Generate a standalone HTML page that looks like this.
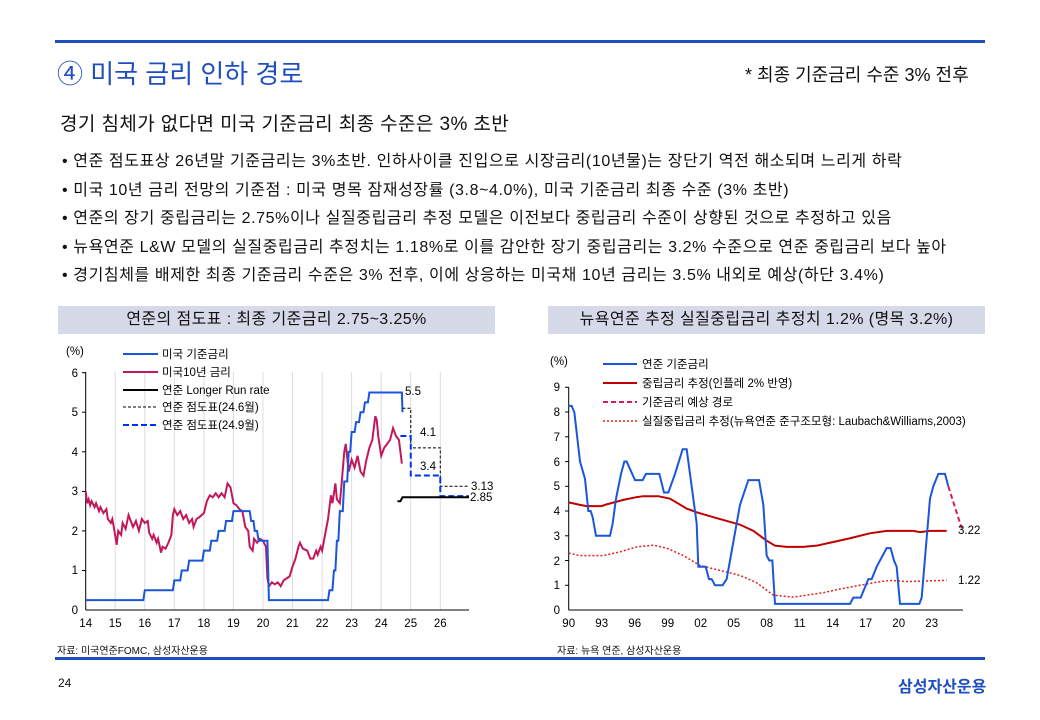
<!DOCTYPE html>
<html><head><meta charset="utf-8"><style>
body{margin:0;width:1040px;height:720px;background:#fff;font-family:"Liberation Sans","Noto Sans CJK KR",sans-serif;position:relative;overflow:hidden;color:#111}
.a{position:absolute;white-space:nowrap}
.bx{position:absolute;background:#d6d9e8;height:28px;line-height:28px;text-align:center;font-size:16px;letter-spacing:0.4px}
</style></head><body>
<div class="a" style="left:55px;top:40px;width:930px;height:3px;background:#1f4fbf"></div>
<div class="a" style="left:57px;top:54px;font-size:26px;color:#1f4fbf">④ 미국 금리 인하 경로</div>
<div class="a" style="left:745px;top:61px;font-size:18px">* 최종 기준금리 수준 3% 전후</div>
<div class="a" style="left:60px;top:109px;font-size:19px;letter-spacing:0.4px">경기 침체가 없다면 미국 기준금리 최종 수준은 3% 초반</div>
<div class="a" style="left:62px;top:148px;font-size:16px;letter-spacing:0.6px;line-height:28.5px">
• 연준 점도표상 26년말 기준금리는 3%초반. 인하사이클 진입으로 시장금리(10년물)는 장단기 역전 해소되며 느리게 하락<br>
• 미국 10년 금리 전망의 기준점 : 미국 명목 잠재성장률 (3.8~4.0%), 미국 기준금리 최종 수준 (3% 초반)<br>
• 연준의 장기 중립금리는 2.75%이나 실질중립금리 추정 모델은 이전보다 중립금리 수준이 상향된 것으로 추정하고 있음<br>
• 뉴욕연준 L&amp;W 모델의 실질중립금리 추정치는 1.18%로 이를 감안한 장기 중립금리는 3.2% 수준으로 연준 중립금리 보다 높아<br>
• 경기침체를 배제한 최종 기준금리 수준은 3% 전후, 이에 상응하는 미국채 10년 금리는 3.5% 내외로 예상(하단 3.4%)</div>
<div class="bx" style="left:58px;top:306px;width:437px">연준의 점도표 : 최종 기준금리 2.75~3.25%</div>
<div class="bx" style="left:548px;top:306px;width:437px">뉴욕연준 추정 실질중립금리 추정치 1.2% (명목 3.2%)</div>
<div class="a" style="left:57px;top:642px;font-size:10px">자료: 미국연준FOMC, 삼성자산운용</div>
<div class="a" style="left:557px;top:642px;font-size:10px">자료: 뉴욕 연준, 삼성자산운용</div>
<div class="a" style="left:55px;top:657px;width:930px;height:3px;background:#1f4fbf"></div>
<div class="a" style="left:58px;top:676px;font-size:12px">24</div>
<div class="a" style="left:898px;top:673px;font-size:16px;font-weight:bold;color:#1f4fbf">삼성자산운용</div>

<svg class="a" style="left:0;top:0" width="1040" height="720" font-family="Liberation Sans,Noto Sans CJK KR,sans-serif" font-size="11.5">
<!-- LEFT CHART -->
<g stroke="#dcdcdc" stroke-width="1">
<line x1="115.2" y1="372" x2="115.2" y2="610"/><line x1="144.8" y1="372" x2="144.8" y2="610"/><line x1="174.3" y1="372" x2="174.3" y2="610"/><line x1="203.9" y1="372" x2="203.9" y2="610"/><line x1="233.4" y1="372" x2="233.4" y2="610"/><line x1="263" y1="372" x2="263" y2="610"/><line x1="292.5" y1="372" x2="292.5" y2="610"/><line x1="322.1" y1="372" x2="322.1" y2="610"/><line x1="351.6" y1="372" x2="351.6" y2="610"/><line x1="381.2" y1="372" x2="381.2" y2="610"/><line x1="410.7" y1="372" x2="410.7" y2="610"/><line x1="440.3" y1="372" x2="440.3" y2="610"/>
</g>
<g stroke="#000" stroke-width="1"><line x1="85.7" y1="372" x2="85.7" y2="610"/><line x1="85.7" y1="610" x2="469" y2="610"/>
<line x1="82" y1="372.7" x2="85.7" y2="372.7"/><line x1="82" y1="412.2" x2="85.7" y2="412.2"/><line x1="82" y1="451.8" x2="85.7" y2="451.8"/><line x1="82" y1="491.4" x2="85.7" y2="491.4"/><line x1="82" y1="530.9" x2="85.7" y2="530.9"/><line x1="82" y1="570.5" x2="85.7" y2="570.5"/></g>
<g text-anchor="end"><text x="78" y="377">6</text><text x="78" y="416">5</text><text x="78" y="456">4</text><text x="78" y="495">3</text><text x="78" y="535">2</text><text x="78" y="574">1</text><text x="78" y="614">0</text></g>
<text x="66" y="355">(%)</text>
<g text-anchor="middle"><text x="85.7" y="627">14</text><text x="115.2" y="627">15</text><text x="144.8" y="627">16</text><text x="174.3" y="627">17</text><text x="203.9" y="627">18</text><text x="233.4" y="627">19</text><text x="263" y="627">20</text><text x="292.5" y="627">21</text><text x="322.1" y="627">22</text><text x="351.6" y="627">23</text><text x="381.2" y="627">24</text><text x="410.7" y="627">25</text><text x="440.3" y="627">26</text></g>
<g transform="translate(85.7,610) scale(29.55,-39.55)" fill="none">
<polyline vector-effect="non-scaling-stroke" stroke="#c2185b" stroke-width="2" points="0,3.0 0.05,2.7 0.1,2.8 0.15,2.65 0.2,2.75 0.3,2.6 0.35,2.7 0.45,2.5 0.5,2.6 0.6,2.45 0.7,2.55 0.75,2.3 0.85,2.2 0.9,2.3 0.95,2.1 1.05,1.65 1.1,2.0 1.2,1.9 1.25,2.2 1.35,2.05 1.45,2.4 1.5,2.3 1.6,2.1 1.7,2.25 1.8,2.0 1.9,2.3 2.0,2.2 2.1,2.25 2.15,1.95 2.25,1.8 2.3,1.9 2.4,1.7 2.45,1.8 2.55,1.45 2.6,1.6 2.7,1.55 2.8,1.7 2.9,1.9 2.95,2.4 3.0,2.55 3.1,2.4 3.2,2.5 3.3,2.3 3.4,2.4 3.5,2.2 3.6,2.3 3.65,2.1 3.75,2.3 3.85,2.35 4.0,2.45 4.1,2.75 4.2,2.9 4.3,2.85 4.4,2.95 4.5,2.85 4.6,2.95 4.7,2.85 4.8,3.2 4.9,3.1 5.0,2.7 5.1,2.65 5.2,2.55 5.3,2.5 5.4,2.1 5.5,2.0 5.55,1.6 5.65,1.5 5.7,1.8 5.8,1.7 5.9,1.8 6.0,1.75 6.1,1.6 6.15,0.8 6.2,0.6 6.3,0.7 6.4,0.65 6.5,0.7 6.6,0.6 6.7,0.75 6.8,0.8 6.9,0.85 7.0,1.1 7.1,1.3 7.2,1.6 7.25,1.7 7.35,1.55 7.5,1.5 7.6,1.3 7.7,1.3 7.8,1.5 7.85,1.4 7.95,1.6 8.0,1.5 8.1,1.9 8.2,2.3 8.3,2.9 8.35,2.7 8.45,3.2 8.5,2.8 8.6,2.7 8.65,3.1 8.75,4.0 8.8,4.2 8.9,3.5 9.0,3.8 9.1,3.6 9.2,3.9 9.3,3.5 9.4,3.4 9.5,3.8 9.6,4.1 9.7,4.3 9.8,4.9 9.85,4.8 9.9,4.4 10.0,3.9 10.1,4.1 10.2,4.2 10.3,4.3 10.4,4.6 10.5,4.4 10.6,4.3 10.7,3.7"/>
<polyline vector-effect="non-scaling-stroke" stroke="#1a56db" stroke-width="2" points="0,0.25 1.95,0.25 2.0,0.5 2.95,0.5 3.0,0.75 3.2,0.75 3.25,1.0 3.45,1.0 3.5,1.25 3.95,1.25 4.0,1.5 4.2,1.5 4.25,1.75 4.45,1.75 4.5,2.0 4.7,2.0 4.75,2.25 4.95,2.25 5.0,2.5 5.55,2.5 5.6,2.25 5.68,2.25 5.72,2.0 5.8,2.0 5.85,1.75 6.15,1.75 6.2,0.25 8.2,0.25 8.25,0.5 8.35,0.5 8.4,1.0 8.45,1.0 8.5,1.75 8.55,1.75 8.6,2.5 8.7,2.5 8.75,3.25 8.85,3.25 8.9,4.0 8.95,4.0 9.0,4.5 9.1,4.5 9.15,4.75 9.25,4.75 9.3,5.0 9.4,5.0 9.45,5.25 9.55,5.25 9.6,5.5 10.7,5.5 10.72,5.0"/>
<polyline vector-effect="non-scaling-stroke" stroke="#000" stroke-width="1" stroke-dasharray="3,2" points="10.72,5.1 11.0,5.1 11.0,4.1 12.0,4.1 12.0,3.13 12.97,3.13"/>
<polyline vector-effect="non-scaling-stroke" stroke="#0033ee" stroke-width="2" stroke-dasharray="6,3" points="10.65,4.4 11.0,4.4 11.0,3.4 12.0,3.4 12.0,2.88 12.97,2.88"/>
<polyline vector-effect="non-scaling-stroke" stroke="#000" stroke-width="2" points="10.55,2.75 10.65,2.75 10.72,2.85 12.97,2.85"/>
</g>
<g><text x="405" y="395">5.5</text><text x="420" y="436">4.1</text><text x="420" y="470">3.4</text><text x="471" y="490">3.13</text><text x="470" y="501">2.85</text></g>
<g stroke-width="2"><line x1="123" y1="354" x2="158" y2="354" stroke="#1a56db"/><line x1="123" y1="372" x2="158" y2="372" stroke="#c2185b"/><line x1="123" y1="390" x2="158" y2="390" stroke="#000"/><line x1="123" y1="407" x2="158" y2="407" stroke="#000" stroke-width="1" stroke-dasharray="3,2"/><line x1="123" y1="425" x2="158" y2="425" stroke="#0033ee" stroke-dasharray="6,3"/></g>
<g><text x="162" y="358">미국 기준금리</text><text x="162" y="376">미국10년 금리</text><text x="162" y="394">연준 Longer Run rate</text><text x="162" y="411">연준 점도표(24.6월)</text><text x="162" y="429">연준 점도표(24.9월)</text></g>

<!-- RIGHT CHART -->
<g stroke="#000" stroke-width="1"><line x1="568.7" y1="387" x2="568.7" y2="610"/><line x1="568.7" y1="610" x2="963" y2="610"/></g>
<g stroke="#000"><line x1="565" y1="387.3" x2="568.7" y2="387.3"/><line x1="565" y1="412" x2="568.7" y2="412"/><line x1="565" y1="436.8" x2="568.7" y2="436.8"/><line x1="565" y1="461.6" x2="568.7" y2="461.6"/><line x1="565" y1="486.3" x2="568.7" y2="486.3"/><line x1="565" y1="511" x2="568.7" y2="511"/><line x1="565" y1="535.8" x2="568.7" y2="535.8"/><line x1="565" y1="560.5" x2="568.7" y2="560.5"/><line x1="565" y1="585.3" x2="568.7" y2="585.3"/></g>
<g text-anchor="end"><text x="560" y="391">9</text><text x="560" y="416">8</text><text x="560" y="441">7</text><text x="560" y="466">6</text><text x="560" y="490">5</text><text x="560" y="515">4</text><text x="560" y="540">3</text><text x="560" y="565">2</text><text x="560" y="589">1</text><text x="560" y="614">0</text></g>
<text x="550" y="365">(%)</text>
<g text-anchor="middle"><text x="568.7" y="627">90</text><text x="601.7" y="627">93</text><text x="634.7" y="627">96</text><text x="667.7" y="627">99</text><text x="700.7" y="627">02</text><text x="733.7" y="627">05</text><text x="766.7" y="627">08</text><text x="799.7" y="627">11</text><text x="832.7" y="627">14</text><text x="865.7" y="627">17</text><text x="898.7" y="627">20</text><text x="931.7" y="627">23</text></g>
<g transform="translate(540,610) scale(0.33333,-24.74)" fill="none">
<polyline vector-effect="non-scaling-stroke" stroke="#c00000" stroke-width="2" points="86,4.35 120,4.25 140,4.2 185,4.2 200,4.27 250,4.45 285,4.55 310,4.6 355,4.6 390,4.5 440,4.1 470,3.95 520,3.75 560,3.6 600,3.45 640,3.2 680,2.8 705,2.6 740,2.55 790,2.55 830,2.6 880,2.75 930,2.9 990,3.1 1040,3.2 1120,3.2 1140,3.15 1170,3.2 1220,3.2"/>
<polyline vector-effect="non-scaling-stroke" stroke="#e02020" stroke-width="1.5" stroke-dasharray="2,2" points="86,2.3 120,2.2 190,2.2 240,2.35 290,2.55 340,2.62 380,2.5 430,2.2 480,1.8 540,1.6 600,1.4 650,1.1 700,0.6 760,0.52 800,0.6 850,0.7 900,0.85 960,1.0 1000,1.1 1050,1.2 1100,1.15 1220,1.2"/>
<polyline vector-effect="non-scaling-stroke" stroke="#1a56db" stroke-width="2" points="86,8.25 95,8.25 103,8.0 120,6 135,5.3 145,4.0 152,4.0 158,3.75 168,3.0 210,3.0 218,3.5 228,4.5 243,5.5 253,6.0 260,6.0 285,5.25 308,5.25 318,5.5 358,5.5 372,4.75 385,4.75 405,5.5 428,6.5 440,6.5 470,3.5 475,1.75 497,1.75 507,1.25 515,1.25 525,1.0 548,1.0 560,1.25 600,4.25 625,5.25 657,5.25 670,4.25 680,2.2 688,2.0 697,2.0 705,0.25 930,0.25 940,0.5 962,0.5 985,1.25 995,1.25 1010,1.75 1040,2.5 1052,2.5 1062,2.0 1070,1.75 1080,0.25 1138,0.25 1145,0.5 1170,4.5 1180,5.0 1195,5.5 1215,5.5 1225,5.0"/>
<polyline vector-effect="non-scaling-stroke" stroke="#d81b60" stroke-width="2" stroke-dasharray="5,3" points="1225,5.0 1265,3.3"/>
</g>
<g><text x="958" y="534">3.22</text><text x="958" y="584">1.22</text></g>
<g stroke-width="2"><line x1="603" y1="364" x2="637" y2="364" stroke="#1a56db"/><line x1="603" y1="383" x2="637" y2="383" stroke="#c00000"/><line x1="603" y1="402" x2="637" y2="402" stroke="#d81b60" stroke-dasharray="5,3"/><line x1="603" y1="421" x2="637" y2="421" stroke="#e02020" stroke-width="1.5" stroke-dasharray="2,2"/></g>
<g><text x="642" y="368">연준 기준금리</text><text x="642" y="387">중립금리 추정(인플레 2% 반영)</text><text x="642" y="406">기준금리 예상 경로</text><text x="642" y="425">실질중립금리 추정(뉴욕연준 준구조모형: Laubach&amp;Williams,2003)</text></g>
</svg>
</body></html>
